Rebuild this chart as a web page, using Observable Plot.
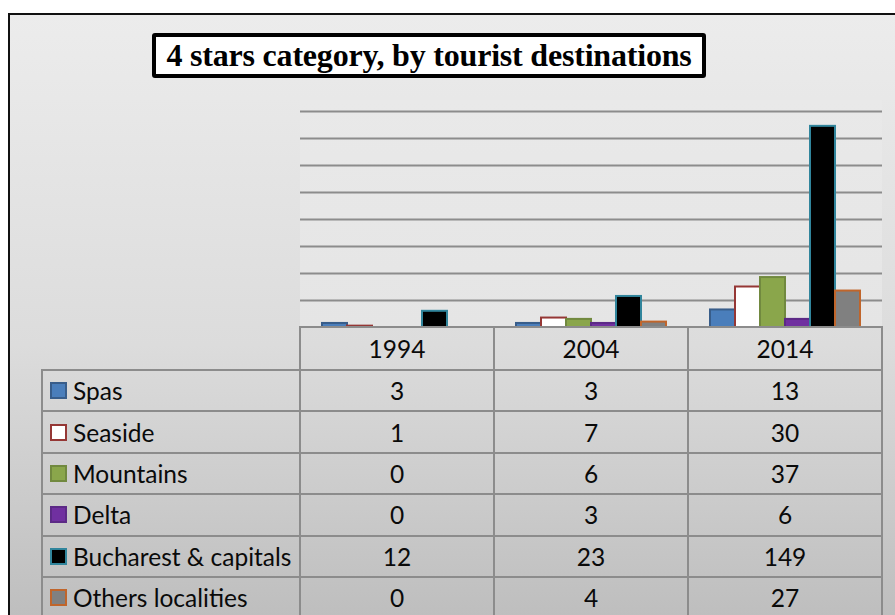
<!DOCTYPE html>
<html>
<head>
<meta charset="utf-8">
<script src="https://cdn.jsdelivr.net/npm/d3@7"></script>
<script src="https://cdn.jsdelivr.net/npm/@observablehq/plot@0.6"></script>
<style>
  html, body { margin: 0; padding: 0; background: #ffffff; }
  #page { position: relative; width: 895px; height: 615px; overflow: hidden; background: #ffffff; }
  #chartArea { position: absolute; left: 8px; top: 13px; width: 1000px; height: 700px;
    border-left: 2.5px solid #111; border-top: 2.5px solid #111;
    background: linear-gradient(to bottom, #ececec 0px, #dcdcdc 330px, #bebebe 602px); }
  #plotBg { position: absolute; left: 300px; top: 100px; width: 582px; height: 227px;
    background: linear-gradient(to bottom, #e9e9e9, #e5e5e5); }
  #title { position: absolute; left: 152px; top: 33px; width: 546px; height: 37px;
    border: 4px solid #000; border-radius: 3px; background: #fff;
    font-family: "Liberation Serif", "Times New Roman", serif; font-weight: bold;
    font-size: 32px; line-height: 37px; text-align: center; color: #000; white-space: nowrap;
    letter-spacing: -0.2px; }
  #plot { position: absolute; left: 0; top: 0; }
  .line { position: absolute; background: #8c8c8c; }
  .cell { position: absolute; font-family: Lato, "Open Sans", sans-serif; font-size: 24.5px;
    color: #0a0a0a; display: flex; align-items: center; white-space: nowrap; }
  .sw { display: inline-block; width: 13px; height: 13px; border: 2px solid; margin-right: 6px; }
</style>
</head>
<body>
<div id="page">
  <div id="chartArea"></div>
  <div id="plotBg"></div>
  <div id="plot"></div>
  <div id="table"></div>
  <div id="title">4 stars category, by tourist destinations</div>
</div>
<script>
// ---- data ----
const years = ["1994", "2004", "2014"];
const seriesNames = ["Spas", "Seaside", "Mountains", "Delta", "Bucharest & capitals", "Others localities"];
const spas = [3, 3, 13];
const seaside = [1, 7, 30];
const mountains = [0, 6, 37];
const delta = [0, 3, 6];
const bucharest = [12, 23, 149];
const others = [0, 4, 27];
const yTicks = [20, 40, 60, 80, 100, 120, 140, 160];

// ---- styles ----
const fillColors = ["#4a7ebb", "#ffffff", "#8aa64b", "#7030a0", "#000000", "#808080"];
const strokeColors = ["#385d8a", "#953735", "#71893f", "#5c2a86", "#31859c", "#c0652b"];

const seriesValues = [spas, seaside, mountains, delta, bucharest, others];
const data = [];
seriesNames.forEach((s, i) => years.forEach((y, j) => data.push({series: s, year: y, value: seriesValues[i][j]})));

const marks = [Plot.ruleY(yTicks, {stroke: "#8c8c8c", strokeWidth: 2})];
seriesNames.forEach((s, i) => {
  marks.push(Plot.barY(data.filter(d => d.series === s && d.value > 0), {
    fx: "year", x: "series", y: "value",
    fill: fillColors[i], stroke: strokeColors[i], strokeWidth: 2
  }));
});

const chart = Plot.plot({
  width: 895, height: 340,
  marginLeft: 300, marginRight: 13, marginTop: 111, marginBottom: 13,
  style: {background: "transparent", overflow: "visible"},
  fx: {domain: years, padding: 0, axis: null},
  x: {domain: seriesNames, paddingInner: 0, paddingOuter: 0.75, axis: null},
  y: {domain: [0, 160], axis: null},
  marks
});
document.getElementById("plot").appendChild(chart);

// ---- data table ----
const table = document.getElementById("table");
const colX = [300, 494, 688, 882];
const labelLeft = 42;
const headTop = 327, rowTop = 370, rowH = 41.4;
const nRows = seriesNames.length;
const bottom = rowTop + rowH * nRows + 5;
function line(x, y, w, h) {
  const d = document.createElement("div");
  d.className = "line";
  Object.assign(d.style, {left: x + "px", top: y + "px", width: w + "px", height: h + "px"});
  table.appendChild(d);
}
function cell(x, y, w, h, html, center) {
  const d = document.createElement("div");
  d.className = "cell";
  Object.assign(d.style, {left: x + "px", top: y + "px", width: w + "px", height: h + "px",
    justifyContent: center ? "center" : "flex-start"});
  d.innerHTML = html;
  table.appendChild(d);
}
// header
years.forEach((y, j) => cell(colX[j], headTop, colX[j + 1] - colX[j], rowTop - headTop, y, true));
// rows
seriesNames.forEach((s, i) => {
  const top = rowTop + i * rowH;
  const sw = `<span class="sw" style="background:${fillColors[i]};border-color:${strokeColors[i]}"></span>`;
  const lab = document.createElement("span");
  lab.textContent = s;
  cell(labelLeft + 8, top, colX[0] - labelLeft - 8, rowH, sw + lab.outerHTML, false);
  years.forEach((y, j) => cell(colX[j], top, colX[j + 1] - colX[j], rowH, String(seriesValues[i][j]), true));
});
// grid lines
line(colX[0] - 1, headTop - 1, colX[3] - colX[0] + 2, 2);
for (let i = 0; i <= nRows; i++) line(labelLeft - 1, rowTop + i * rowH - 1, colX[3] - labelLeft + 2, 2);
colX.forEach(x => line(x - 1, headTop - 1, 2, bottom - headTop));
line(labelLeft - 1, rowTop - 1, 2, bottom - rowTop);
</script>
</body>
</html>
